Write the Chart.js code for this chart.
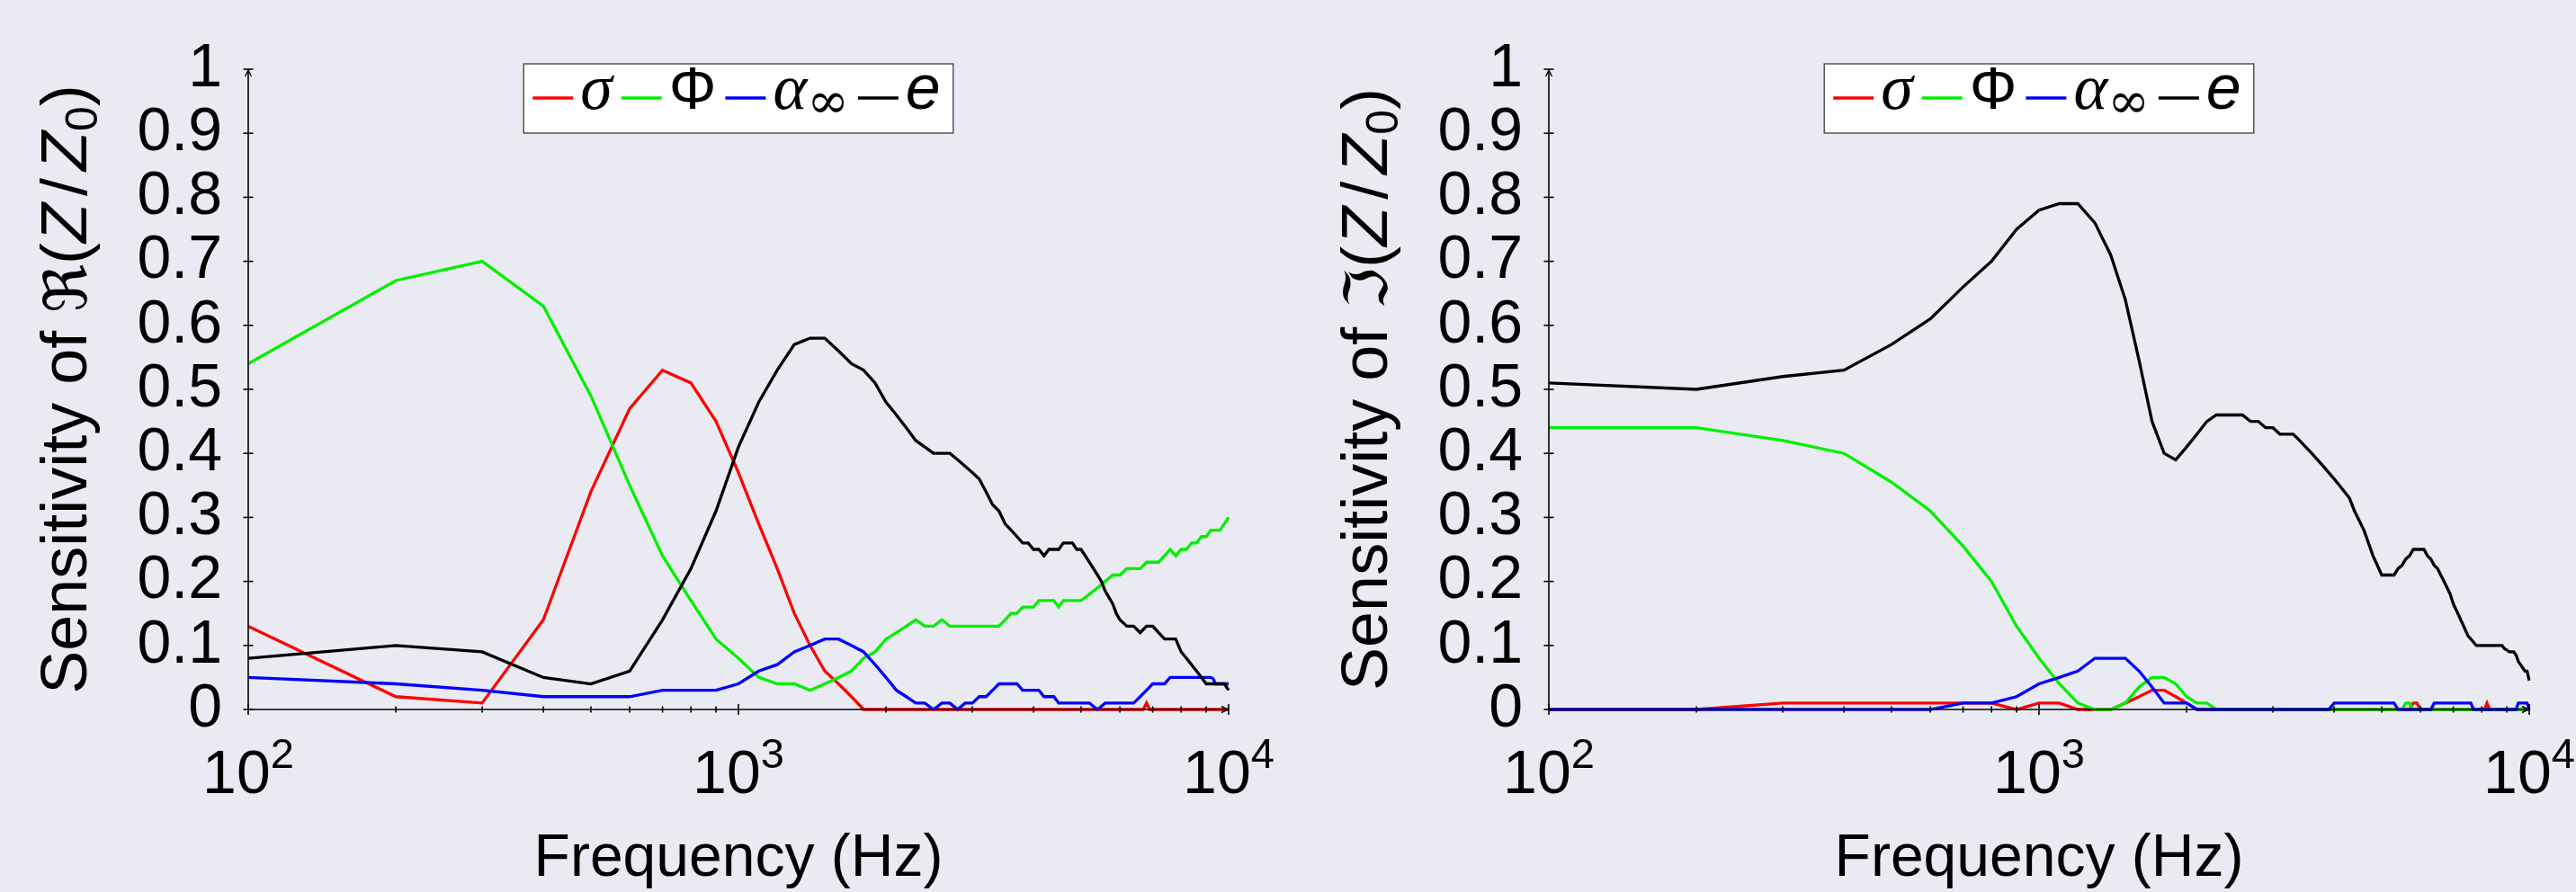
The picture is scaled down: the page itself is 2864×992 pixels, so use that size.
<!DOCTYPE html>
<html>
<head>
<meta charset="utf-8">
<script src="https://cdn.jsdelivr.net/npm/chart.js@4.4.1/dist/chart.umd.min.js"></script>
<style>
  html, body { margin: 0; padding: 0; background: #eaeaf2; }
  #wrap { position: relative; width: 2864px; height: 992px; overflow: hidden; }
  canvas { position: absolute; top: 0; }
</style>
</head>
<body>
<div id="wrap">
  <canvas id="reCanvas" width="1432" height="992" style="left:0px"></canvas>
  <canvas id="imCanvas" width="1432" height="992" style="left:1432px"></canvas>
</div>
<script>
// Frequency grid (Hz)
const freqs = [
  100, 200, 300, 400, 500, 600, 700, 800, 900, 1000,
  1100, 1200, 1300, 1400, 1500, 1600, 1700, 1800, 1900, 2000,
  2100, 2200, 2300, 2400, 2500, 2600, 2700, 2800, 2900, 3000,
  3100, 3200, 3300, 3400, 3500, 3600, 3700, 3800, 3900, 4000,
  4100, 4200, 4300, 4400, 4500, 4600, 4700, 4800, 4900, 5000,
  5100, 5200, 5300, 5400, 5500, 5600, 5700, 5800, 5900, 6000,
  6100, 6200, 6300, 6400, 6500, 6600, 6700, 6800, 6900, 7000,
  7100, 7200, 7300, 7400, 7500, 7600, 7700, 7800, 7900, 8000,
  8100, 8200, 8300, 8400, 8500, 8600, 8700, 8800, 8900, 9000,
  9100, 9200, 9300, 9400, 9500, 9600, 9700, 9800, 9900, 10000
];

// Sensitivity of the real part
const sigmaRe = [
  0.13, 0.02, 0.01, 0.14, 0.34, 0.47, 0.53, 0.51, 0.45, 0.37,
  0.29, 0.22, 0.15, 0.10, 0.06, 0.04, 0.02, 0, 0, 0,
  0, 0, 0, 0, 0, 0, 0, 0, 0, 0,
  0, 0, 0, 0, 0, 0, 0, 0, 0, 0,
  0, 0, 0, 0, 0, 0, 0, 0, 0, 0,
  0, 0, 0, 0, 0, 0, 0, 0, 0, 0,
  0, 0, 0, 0, 0, 0, 0, 0.01, 0, 0,
  0, 0, 0, 0, 0, 0, 0, 0, 0, 0,
  0, 0, 0, 0, 0, 0, 0, 0, 0, 0,
  0, 0, 0, 0, 0, 0, 0, 0, 0, 0
];
const phiRe = [
  0.54, 0.67, 0.70, 0.63, 0.49, 0.35, 0.24, 0.17, 0.11, 0.08,
  0.05, 0.04, 0.04, 0.03, 0.04, 0.05, 0.06, 0.08, 0.09, 0.11,
  0.12, 0.13, 0.14, 0.13, 0.13, 0.14, 0.13, 0.13, 0.13, 0.13,
  0.13, 0.13, 0.13, 0.13, 0.14, 0.15, 0.15, 0.16, 0.16, 0.16,
  0.17, 0.17, 0.17, 0.17, 0.16, 0.17, 0.17, 0.17, 0.17, 0.17,
  0.175, 0.18, 0.185, 0.19, 0.195, 0.20, 0.205, 0.21, 0.21, 0.21,
  0.215, 0.22, 0.22, 0.22, 0.22, 0.22, 0.225, 0.23, 0.23, 0.23,
  0.23, 0.23, 0.235, 0.24, 0.245, 0.25, 0.245, 0.24, 0.245, 0.25,
  0.25, 0.25, 0.255, 0.26, 0.26, 0.26, 0.265, 0.27, 0.27, 0.27,
  0.275, 0.28, 0.28, 0.28, 0.28, 0.28, 0.285, 0.29, 0.295, 0.30
];
const alphaRe = [
  0.05, 0.04, 0.03, 0.02, 0.02, 0.02, 0.03, 0.03, 0.03, 0.04,
  0.06, 0.07, 0.09, 0.10, 0.11, 0.11, 0.10, 0.09, 0.07, 0.05,
  0.03, 0.02, 0.01, 0.01, 0, 0.01, 0.01, 0, 0.01, 0.01,
  0.02, 0.02, 0.03, 0.04, 0.04, 0.04, 0.04, 0.03, 0.03, 0.03,
  0.03, 0.02, 0.02, 0.02, 0.01, 0.01, 0.01, 0.01, 0.01, 0.01,
  0.01, 0.01, 0.005, 0, 0.005, 0.01, 0.01, 0.01, 0.01, 0.01,
  0.01, 0.01, 0.01, 0.01, 0.015, 0.02, 0.025, 0.03, 0.035, 0.04,
  0.04, 0.04, 0.04, 0.04, 0.045, 0.05, 0.05, 0.05, 0.05, 0.05,
  0.05, 0.05, 0.05, 0.05, 0.05, 0.05, 0.05, 0.05, 0.05, 0.05,
  0.05, 0.05, 0.048, 0.04, 0.04, 0.04, 0.04, 0.04, 0.04, 0.04
];
const eRe = [
  0.08, 0.10, 0.09, 0.05, 0.04, 0.06, 0.14, 0.22, 0.31, 0.41,
  0.48, 0.53, 0.57, 0.58, 0.58, 0.56, 0.54, 0.53, 0.51, 0.48,
  0.46, 0.44, 0.42, 0.41, 0.40, 0.40, 0.40, 0.39, 0.38, 0.37,
  0.36, 0.34, 0.32, 0.31, 0.29, 0.28, 0.27, 0.26, 0.26, 0.25,
  0.25, 0.24, 0.25, 0.25, 0.25, 0.26, 0.26, 0.26, 0.25, 0.25,
  0.24, 0.23, 0.22, 0.21, 0.20, 0.185, 0.175, 0.165, 0.15, 0.14,
  0.135, 0.13, 0.13, 0.13, 0.125, 0.12, 0.125, 0.13, 0.13, 0.13,
  0.125, 0.12, 0.115, 0.11, 0.11, 0.11, 0.11, 0.11, 0.10, 0.09,
  0.085, 0.08, 0.075, 0.07, 0.065, 0.06, 0.055, 0.05, 0.045, 0.04,
  0.04, 0.04, 0.04, 0.04, 0.04, 0.04, 0.04, 0.04, 0.035, 0.03
];

// Sensitivity of the imaginary part
const sigmaIm = [
  0, 0, 0.01, 0.01, 0.01, 0.01, 0.01, 0.01, 0, 0.01,
  0.01, 0, 0, 0, 0.01, 0.02, 0.03, 0.03, 0.02, 0.01,
  0, 0, 0, 0, 0, 0, 0, 0, 0, 0,
  0, 0, 0, 0, 0, 0, 0, 0, 0, 0,
  0, 0, 0, 0, 0, 0, 0, 0, 0, 0,
  0, 0, 0, 0, 0, 0, 0, 0.01, 0.01, 0,
  0, 0, 0, 0, 0, 0, 0, 0, 0, 0,
  0, 0, 0, 0, 0, 0, 0, 0, 0, 0,
  0, 0.01, 0, 0, 0, 0, 0, 0, 0, 0,
  0, 0, 0, 0, 0, 0, 0, 0, 0, 0
];
const phiIm = [
  0.44, 0.44, 0.42, 0.40, 0.355, 0.31, 0.255, 0.20, 0.13, 0.08,
  0.04, 0.01, 0, 0, 0.01, 0.035, 0.05, 0.05, 0.04, 0.02,
  0.01, 0.01, 0, 0, 0, 0, 0, 0, 0, 0,
  0, 0, 0, 0, 0, 0, 0, 0, 0, 0,
  0, 0, 0, 0, 0, 0, 0, 0, 0, 0,
  0, 0, 0, 0, 0, 0.01, 0.01, 0, 0, 0,
  0, 0, 0, 0, 0, 0, 0, 0, 0, 0,
  0, 0, 0, 0, 0, 0, 0, 0, 0, 0,
  0, 0, 0, 0, 0, 0, 0, 0, 0, 0,
  0, 0, 0, 0, 0, 0, 0, 0, 0, 0
];
const alphaIm = [
  0, 0, 0, 0, 0, 0, 0.01, 0.01, 0.02, 0.04,
  0.05, 0.06, 0.08, 0.08, 0.08, 0.06, 0.035, 0.01, 0.01, 0.01,
  0, 0, 0, 0, 0, 0, 0, 0, 0, 0,
  0, 0, 0, 0, 0, 0, 0, 0, 0, 0.01,
  0.01, 0.01, 0.01, 0.01, 0.01, 0.01, 0.01, 0.01, 0.01, 0.01,
  0.01, 0.01, 0.01, 0, 0, 0, 0, 0, 0, 0,
  0, 0, 0, 0.01, 0.01, 0.01, 0.01, 0.01, 0.01, 0.01,
  0.01, 0.01, 0.01, 0.01, 0.01, 0.01, 0, 0, 0, 0,
  0, 0, 0, 0, 0, 0, 0, 0, 0, 0,
  0, 0, 0, 0, 0.01, 0.01, 0.01, 0.01, 0.01, 0
];
const eIm = [
  0.51, 0.50, 0.52, 0.53, 0.57, 0.61, 0.66, 0.70, 0.75, 0.78,
  0.79, 0.79, 0.76, 0.71, 0.64, 0.545, 0.45, 0.40, 0.39, 0.41,
  0.43, 0.45, 0.46, 0.46, 0.46, 0.46, 0.45, 0.45, 0.44, 0.44,
  0.43, 0.43, 0.43, 0.42, 0.41, 0.40, 0.39, 0.38, 0.37, 0.36,
  0.35, 0.34, 0.33, 0.31, 0.295, 0.28, 0.26, 0.24, 0.225, 0.21,
  0.21, 0.21, 0.21, 0.22, 0.225, 0.235, 0.24, 0.25, 0.25, 0.25,
  0.25, 0.24, 0.235, 0.225, 0.22, 0.21, 0.20, 0.19, 0.18, 0.165,
  0.155, 0.145, 0.135, 0.125, 0.115, 0.11, 0.105, 0.10, 0.10, 0.10,
  0.10, 0.10, 0.10, 0.10, 0.10, 0.10, 0.10, 0.10, 0.095, 0.093,
  0.09, 0.09, 0.09, 0.085, 0.075, 0.07, 0.065, 0.06, 0.06, 0.045
];

// Axis ticks and labels
const yTickValues = [0, 0.1, 0.2, 0.3, 0.4, 0.5, 0.6, 0.7, 0.8, 0.9, 1];
const yTickLabels = ['0', '0.1', '0.2', '0.3', '0.4', '0.5', '0.6', '0.7', '0.8', '0.9', '1'];
const xMajorTicks = [100, 1000, 10000];
const xMinorTicks = [200, 300, 400, 500, 600, 700, 800, 900, 2000, 3000, 4000, 5000, 6000, 7000, 8000, 9000];
const xTickBase = ['10', '10', '10'];
const xTickExp = ['2', '3', '4'];
const xTitle = 'Frequency (Hz)';
const seriesNames = ['σ', 'Φ', 'α∞', 'e'];
const seriesColors = ['#ff0000', '#00f000', '#0000ff', '#000000'];

const SANS = '"Liberation Sans", Arial, Helvetica, sans-serif';
const SERIF = '"Liberation Serif", "DejaVu Serif", serif';
const MATHSYM = '"DejaVu Serif", "DejaVu Sans", serif';

// Legend entries: text runs per series (σ, Φ, α∞, e)
const legendRuns = [
  [{ t: 'σ', font: `italic 72px ${SERIF}` }],
  [{ t: 'Φ', font: `66px ${SANS}` }],
  [{ t: 'α', font: `italic 72px ${SERIF}` }, { t: '∞', font: `56px ${MATHSYM}`, dy: 10 }],
  [{ t: 'e', font: `italic 70px ${SANS}` }]
];

function yTitleRuns(partSymbol) {
  return [
    { t: 'Sensitivity of ', font: `72px ${SANS}` },
    { t: partSymbol, font: `66px ${MATHSYM}` },
    { t: '(', font: `72px ${SANS}` },
    { t: 'Z', font: `italic 72px ${SANS}` },
    { t: '/', font: `72px ${SANS}`, pad: 8 },
    { t: 'Z', font: `italic 72px ${SANS}` },
    { t: '0', font: `50px ${SANS}`, dy: 12 },
    { t: ')', font: `72px ${SANS}` }
  ];
}

function runsWidth(ctx, runs) {
  let w = 0;
  for (const r of runs) {
    ctx.font = r.font;
    w += ctx.measureText(r.t).width + 2 * (r.pad || 0);
  }
  return w;
}
function drawRuns(ctx, runs, x, y) {
  for (const r of runs) {
    ctx.font = r.font;
    x += (r.pad || 0);
    ctx.fillText(r.t, x, y + (r.dy || 0));
    x += ctx.measureText(r.t).width + (r.pad || 0);
  }
  return x;
}

// Axis lines, tick marks, arrow tips, tick labels, titles and legend
function makeDecor(titleRuns) {
  return {
    id: 'decor',
    afterDraw(chart) {
      const ctx = chart.ctx;
      const { left, right, top, bottom } = chart.chartArea;
      const xs = chart.scales.x;
      const ys = chart.scales.y;
      ctx.save();
      ctx.strokeStyle = '#000';
      ctx.fillStyle = '#000';
      ctx.lineWidth = 1.6;
      ctx.lineCap = 'butt';

      const seg = (x1, y1, x2, y2) => { ctx.beginPath(); ctx.moveTo(x1, y1); ctx.lineTo(x2, y2); ctx.stroke(); };

      // axis lines
      seg(left, bottom, right, bottom);
      seg(left, bottom, left, top);

      // y tick marks
      yTickValues.forEach(v => { const y = ys.getPixelForValue(v); seg(left - 5.5, y, left + 5.5, y); });
      // x tick marks
      xMajorTicks.forEach(v => { const x = xs.getPixelForValue(v); seg(x, bottom - 6, x, bottom + 6); });
      xMinorTicks.forEach(v => { const x = xs.getPixelForValue(v); seg(x, bottom - 3.5, x, bottom + 3.5); });

      // arrow tips
      ctx.lineWidth = 1.4;
      ctx.beginPath();
      ctx.moveTo(left - 3.5, top + 8); ctx.lineTo(left, top + 1); ctx.lineTo(left + 3.5, top + 8);
      ctx.stroke();
      ctx.beginPath();
      ctx.moveTo(right - 8, bottom - 3.5); ctx.lineTo(right - 1, bottom); ctx.lineTo(right - 8, bottom + 3.5);
      ctx.stroke();

      // x tick labels 10^n
      ctx.textBaseline = 'alphabetic';
      ctx.textAlign = 'left';
      xMajorTicks.forEach((v, i) => {
        const x = xs.getPixelForValue(v);
        ctx.font = `68px ${SANS}`;
        const wb = ctx.measureText(xTickBase[i]).width;
        ctx.font = `47px ${SANS}`;
        const we = ctx.measureText(xTickExp[i]).width;
        const x0 = x - (wb + we) / 2;
        ctx.font = `68px ${SANS}`;
        ctx.fillText(xTickBase[i], x0, bottom + 93);
        ctx.font = `47px ${SANS}`;
        ctx.fillText(xTickExp[i], x0 + wb, bottom + 65);
      });

      // x title
      ctx.font = `66px ${SANS}`;
      ctx.textAlign = 'center';
      ctx.fillText(xTitle, (left + right) / 2, bottom + 185);

      // y title (rotated)
      ctx.textAlign = 'left';
      ctx.save();
      ctx.translate(left - 180, (top + bottom) / 2);
      ctx.rotate(-Math.PI / 2);
      const tw = runsWidth(ctx, titleRuns);
      drawRuns(ctx, titleRuns, -tw / 2, 0);
      ctx.restore();

      // legend
      const datasets = chart.data.datasets;
      const lineLen = 45, gapAfterLine = 8, gapAfterSym = 10, padX = 10;
      let content = padX;
      datasets.forEach((ds, i) => {
        content += lineLen + gapAfterLine + runsWidth(ctx, legendRuns[i]) + (i < datasets.length - 1 ? gapAfterSym : 0);
      });
      content += padX + 4;
      const bw = content, bh = 77;
      const bx = (left + right) / 2 - bw / 2;
      const by = top - 6;
      ctx.fillStyle = '#ffffff';
      ctx.fillRect(bx, by, bw, bh);
      ctx.strokeStyle = '#555';
      ctx.lineWidth = 1.5;
      ctx.strokeRect(bx, by, bw, bh);
      let cx = bx + padX;
      const ly = by + 38;
      datasets.forEach((ds, i) => {
        ctx.strokeStyle = ds.borderColor;
        ctx.lineWidth = 3.3;
        seg(cx, ly, cx + lineLen, ly);
        cx += lineLen + gapAfterLine;
        ctx.fillStyle = '#000';
        cx = drawRuns(ctx, legendRuns[i], cx, by + 50);
        cx += gapAfterSym;
      });
      ctx.restore();
    }
  };
}

function makeChart(canvasId, series, yAxisWidth, padRight, titleRuns) {
  const datasets = series.map((vals, i) => ({
    label: seriesNames[i],
    data: freqs.map((f, k) => ({ x: f, y: vals[k] })),
    borderColor: seriesColors[i],
    backgroundColor: seriesColors[i],
    borderWidth: 3.3,
    pointRadius: 0,
    tension: 0,
    fill: false,
    clip: 4,
    order: 4 - i
  }));
  return new Chart(document.getElementById(canvasId), {
    type: 'line',
    data: { datasets },
    options: {
      responsive: false,
      animation: false,
      devicePixelRatio: 1,
      layout: { padding: { top: 77, right: padRight, left: 0, bottom: 0 } },
      plugins: { legend: { display: false }, tooltip: { enabled: false } },
      scales: {
        x: {
          type: 'logarithmic',
          min: 100,
          max: 10000,
          grid: { display: false, drawTicks: false },
          border: { display: false },
          ticks: { display: false },
          afterFit: s => { s.height = 203; }
        },
        y: {
          type: 'linear',
          min: 0,
          max: 1,
          grid: { display: false, drawTicks: false },
          border: { display: false },
          ticks: {
            stepSize: 0.1,
            autoSkip: false,
            padding: 29,
            color: '#000',
            font: { family: '"Liberation Sans", Arial, sans-serif', size: 68, lineHeight: 1 },
            callback: (v, i) => yTickLabels[i]
          },
          afterFit: s => { s.width = yAxisWidth; }
        }
      }
    },
    plugins: [makeDecor(titleRuns)]
  });
}

makeChart('reCanvas', [sigmaRe, phiRe, alphaRe, eRe], 276, 66, yTitleRuns('ℜ'));
makeChart('imCanvas', [sigmaIm, phiIm, alphaIm, eIm], 290, 52, yTitleRuns('ℑ'));
</script>
</body>
</html>
